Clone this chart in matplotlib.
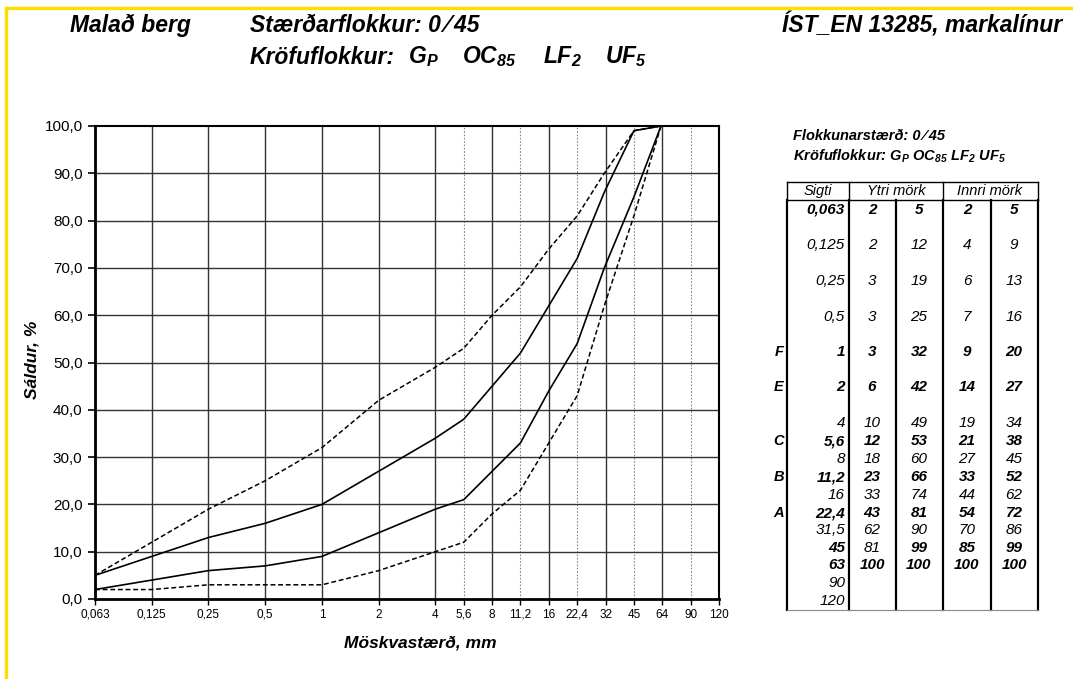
import numpy as np
import matplotlib
matplotlib.use("Agg")
import matplotlib.pyplot as plt
from matplotlib.lines import Line2D

# ---------------- data ----------------
axis_sieves = [0.063, 0.125, 0.25, 0.5, 1, 2, 4, 5.6, 8, 11.2, 16, 22.4, 32, 45, 64, 90, 120]
axis_labels = ["0,063", "0,125", "0,25", "0,5", "1", "2", "4", "5,6", "8", "11,2",
               "16", "22,4", "32", "45", "64", "90", "120"]
y_ticks = [0, 10, 20, 30, 40, 50, 60, 70, 80, 90, 100]

sieves = [0.063, 0.125, 0.25, 0.5, 1, 2, 4, 5.6, 8, 11.2, 16, 22.4, 31.5, 45, 63]
outer_lower = [2, 2, 3, 3, 3, 6, 10, 12, 18, 23, 33, 43, 62, 81, 100]
outer_upper = [5, 12, 19, 25, 32, 42, 49, 53, 60, 66, 74, 81, 90, 99, 100]
inner_lower = [2, 4, 6, 7, 9, 14, 19, 21, 27, 33, 44, 54, 70, 85, 100]
inner_upper = [5, 9, 13, 16, 20, 27, 34, 38, 45, 52, 62, 72, 86, 99, 100]

table_sieves = ["0,063", "0,125", "0,25", "0,5", "1", "2", "4", "5,6", "8", "11,2",
                "16", "22,4", "31,5", "45", "63", "90", "120"]
row_letters = {"1": "F", "2": "E", "5,6": "C", "11,2": "B", "22,4": "A"}
bold_rows = ["0,063", "1", "2", "5,6", "11,2", "22,4", "45", "63"]
req_classes = ["G$_P$", "OC$_{85}$", "LF$_2$", "UF$_5$"]

# ---------------- style ----------------
FONT = ["Liberation Sans", "DejaVu Sans"]
plt.rcParams["font.family"] = FONT
plt.rcParams["mathtext.fontset"] = "custom"
plt.rcParams["mathtext.it"] = "Liberation Sans:italic:bold"
plt.rcParams["mathtext.rm"] = "Liberation Sans:italic:bold"
plt.rcParams["mathtext.bf"] = "Liberation Sans:italic:bold"

W, H = 1073, 679
fig = plt.figure(figsize=(W / 100, H / 100), dpi=100)


def fx(px):
    return px / W


def fy(py):
    return 1 - py / H


# axis scale: equal spacing per nominal sieve step
major_pos = np.array([0, 1, 2, 3, 4, 5, 6, 6.5, 7, 7.5, 8, 8.5, 9, 9.5, 10, 10.5, 11], float)
log_s = np.log(np.array(axis_sieves, float))


def fwd(x):
    x = np.asarray(x, float)
    return np.interp(np.log(np.clip(x, 1e-9, None)), log_s, major_pos)


def inv(p):
    p = np.asarray(p, float)
    return np.exp(np.interp(p, major_pos, log_s))


ax = fig.add_axes([fx(95), fy(599), fx(719) - fx(95), fy(126) - fy(599)])
ax.set_xscale("function", functions=(fwd, inv))
ax.set_xlim(axis_sieves[0], axis_sieves[-1])
ax.set_ylim(0, 100)

# grid
for s, p in zip(axis_sieves, major_pos):
    if p == int(p):
        ax.axvline(s, color="#333333", lw=1.0, zorder=1)
    else:
        ax.axvline(s, color="#888888", lw=0.8, ls=(0, (1.5, 1.5)), zorder=1)
for yv in y_ticks[1:-1]:
    ax.axhline(yv, color="#333333", lw=1.0, zorder=1)

# curves
dash = (0, (3.2, 1.8))
ax.plot(sieves, outer_lower, color="black", lw=1.1, ls=dash, zorder=3)
ax.plot(sieves, outer_upper, color="black", lw=1.1, ls=dash, zorder=3)
ax.plot(sieves, inner_lower, color="black", lw=1.2, zorder=3)
ax.plot(sieves, inner_upper, color="black", lw=1.2, zorder=3)

ax.set_xticks(axis_sieves)
ax.set_xticklabels(axis_labels, fontsize=8.5)
ax.xaxis.set_minor_locator(matplotlib.ticker.NullLocator())
ax.set_yticks(y_ticks)
ax.set_yticklabels([f"{v:.1f}".replace(".", ",") for v in y_ticks], fontsize=11)
ax.tick_params(axis="y", direction="out", length=5, width=1.2, pad=4)
ax.tick_params(axis="x", direction="out", length=4, width=1.0, pad=3)
for side in ["left", "bottom"]:
    ax.spines[side].set_linewidth(2.0)
for side in ["top", "right"]:
    ax.spines[side].set_linewidth(1.5)

fig.text(fx(420), fy(643), "Möskvastærð, mm", ha="center", va="center",
         fontsize=12.5, fontweight="bold", style="italic")
fig.text(fx(32), fy(360), "Sáldur, %", ha="center", va="center", rotation=90,
         fontsize=12.5, fontweight="bold", style="italic")

# header titles
tkw = dict(fontsize=16.5, fontweight="bold", style="italic", va="center")
fig.text(fx(70), fy(25), "Malað berg", ha="left", **tkw)
fig.text(fx(250), fy(25), "Stærðarflokkur: 0\u2009\u2044\u200945", ha="left", **tkw)
fig.text(fx(250), fy(57), "Kröfuflokkur:", ha="left", **tkw)
for xp, s in zip([408, 462, 543, 605], req_classes):
    fig.text(fx(xp), fy(57), s, ha="left", **tkw)
fig.text(fx(1062), fy(25), "ÍST_EN 13285, markalínur", ha="right", **tkw)

# yellow border
yel = "#FFDD00"
fig.add_artist(Line2D([fx(6), fx(6)], [fy(8), fy(679)], color=yel, lw=2.4,
                      transform=fig.transFigure))
fig.add_artist(Line2D([fx(6), fx(1073)], [fy(8), fy(8)], color=yel, lw=2.4,
                      transform=fig.transFigure))

# ---------------- table ----------------
fig.text(fx(793), fy(136), "Flokkunarstærð: 0\u2009\u2044\u200945", ha="left", va="center",
         fontsize=10.5, fontweight="bold", style="italic")
fig.text(fx(793), fy(156), "Kröfuflokkur: " + " ".join(req_classes), ha="left",
         va="center", fontsize=10.5, fontweight="bold", style="italic")


def hline(x0, x1, y, lw=1.0, color="black"):
    fig.add_artist(Line2D([fx(x0), fx(x1)], [fy(y), fy(y)], color=color, lw=lw,
                          transform=fig.transFigure))


def vline(x, y0, y1, lw=1.0, color="black"):
    fig.add_artist(Line2D([fx(x), fx(x)], [fy(y0), fy(y1)], color=color, lw=lw,
                          transform=fig.transFigure))


col_x = [787, 849, 896, 943, 991, 1038]
hline(787, 1038, 182, lw=1.0)
hline(787, 1038, 200, lw=1.0)
for x in [787, 849, 943, 1038]:
    vline(x, 182, 200, lw=1.0)
for x in col_x:
    vline(x, 200, 610, lw=1.6)
hline(787, 1038, 610, lw=0.8, color="#888888")

hkw = dict(fontsize=10.5, style="italic", va="center", ha="center")
fig.text(fx(818), fy(191), "Sigti", **hkw)
fig.text(fx(896), fy(191), "Ytri mörk", **hkw)
fig.text(fx(990), fy(191), "Innri mörk", **hkw)

row_y = [210, 245, 281, 317, 352, 387, 423, 441, 459, 477, 495, 513, 530, 548, 565, 583, 601]
val_x = [872, 919, 967, 1014]
cols = [outer_lower, outer_upper, inner_lower, inner_upper]

for i, lab in enumerate(table_sieves):
    y = row_y[i]
    bold = lab in bold_rows
    w = "bold" if bold else "normal"
    fig.text(fx(845), fy(y), lab, ha="right", va="center", fontsize=11,
             style="italic", fontweight=w)
    if lab in row_letters:
        fig.text(fx(779), fy(y), row_letters[lab], ha="center", va="center",
                 fontsize=10.5, style="italic", fontweight="bold")
    if i < len(sieves):
        for j, c in enumerate(cols):
            cw = w
            if lab == "45" and j == 0:
                cw = "normal"
            fig.text(fx(val_x[j]), fy(y), str(c[i]), ha="center", va="center",
                     fontsize=11, style="italic", fontweight=cw)

fig.savefig("out.png", dpi=100)
